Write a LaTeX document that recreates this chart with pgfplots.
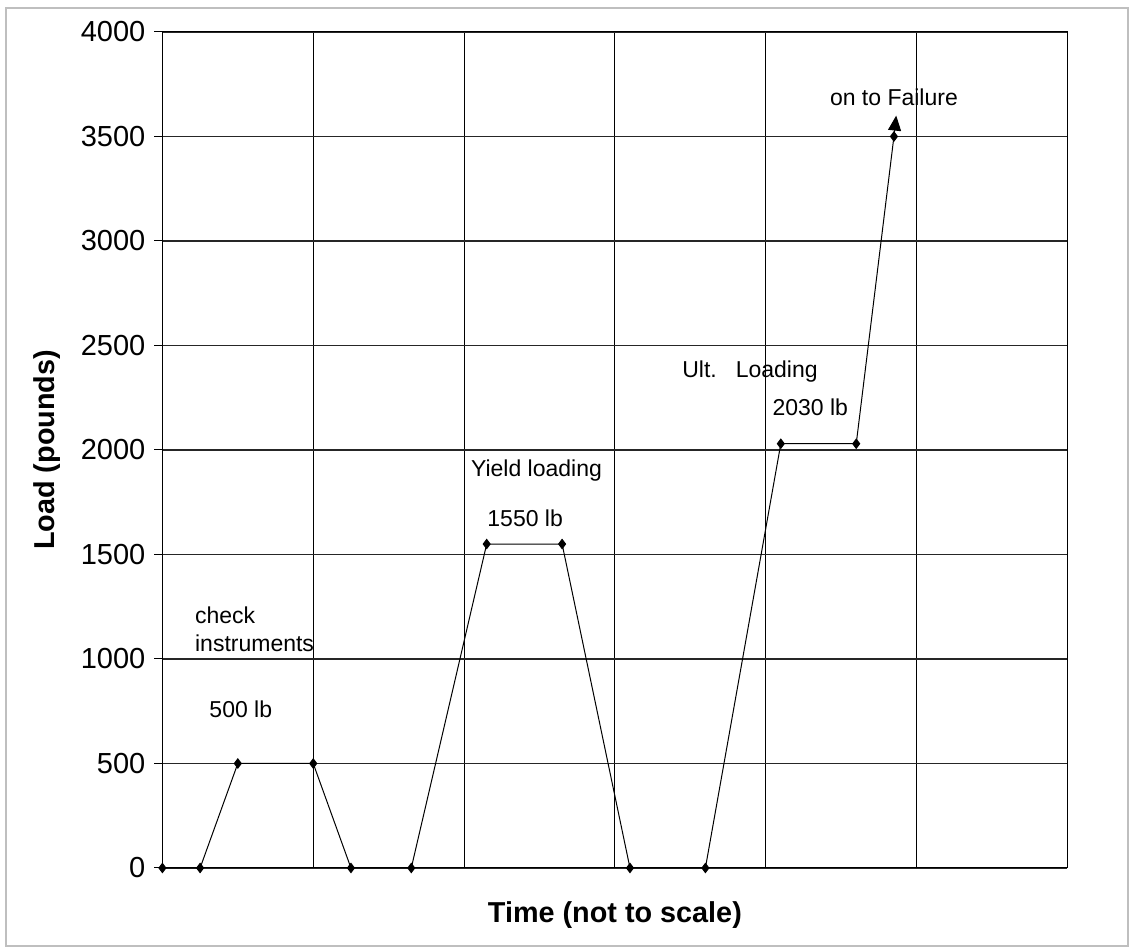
\documentclass[border=0pt]{standalone}
\usepackage{pgfplots}
\pgfplotsset{compat=1.18}
\usepackage{fontspec}
\setmainfont{Liberation Sans}
\usetikzlibrary{arrows.meta}
\begin{document}
\begin{tikzpicture}
\useasboundingbox (0,0) rectangle (566pt,476pt);
\draw[gray!50, line width=0.7pt] (3pt,3pt) rectangle (564pt,472pt);
\begin{axis}[
  scale only axis,
  width=452.5pt, height=418pt,
  at={(81.2pt,42pt)}, anchor=south west,
  xmin=0, xmax=120, ymin=0, ymax=4000,
  xtick={0,20,...,120}, xticklabels={},
  ytick={0,500,...,4000},
  ytick pos=left,
  grid=major,
  x grid style={black, line width=0.5pt},
  y grid style={black!85, line width=0.55pt},
  axis line style={black, line width=0.5pt},
  tick align=outside,
  x tick style={draw=none},
  y tick style={black, line width=0.5pt},
  major tick length=4pt,
  yticklabel style={font=\fontsize{14.5}{16}\selectfont, xshift=-1pt},
  /pgf/number format/assume math mode=true,
  /pgf/number format/1000 sep={},
  xlabel={Time (not to scale)},
  ylabel={Load (pounds)},
  xlabel style={font=\fontsize{14.4}{16}\selectfont\bfseries, at={(axis description cs:0.5,-0.056)}, anchor=center},
  ylabel style={font=\fontsize{14.4}{16}\selectfont\bfseries, at={(axis description cs:-0.127,0.5)}, anchor=center, rotate=0},
  clip=false,
]
\addplot[black, line width=0.5pt, mark=diamond*, mark size=2.3pt, mark options={fill=black}] coordinates {
  (0,0) (5,0) (10,500) (20,500) (25,0) (33,0) (43,1550) (53,1550) (62,0) (72,0) (82,2030) (92,2030) (97,3500)
};
\addplot[black, line width=0.5pt, -{Triangle[length=7.5pt,width=6.5pt]}] coordinates {(97,3500) (97.3,3600)};
\begin{scope}[font=\fontsize{11.5}{13}\selectfont]
\node[anchor=west] at (axis cs:3.4,1210) {check};
\node[anchor=west] at (axis cs:3.4,1074) {instruments};
\node at (axis cs:10.4,760) {500 lb};
\node at (axis cs:49.6,1901) {Yield loading};
\node at (axis cs:48.1,1675) {1550 lb};
\node[anchor=west] at (axis cs:68.0,2374) {Ult.\hspace{9.5pt}Loading};
\node at (axis cs:85.9,2203) {2030 lb};
\node at (axis cs:97.0,3686) {on to Failure};
\end{scope}
\end{axis}
\end{tikzpicture}
\end{document}
